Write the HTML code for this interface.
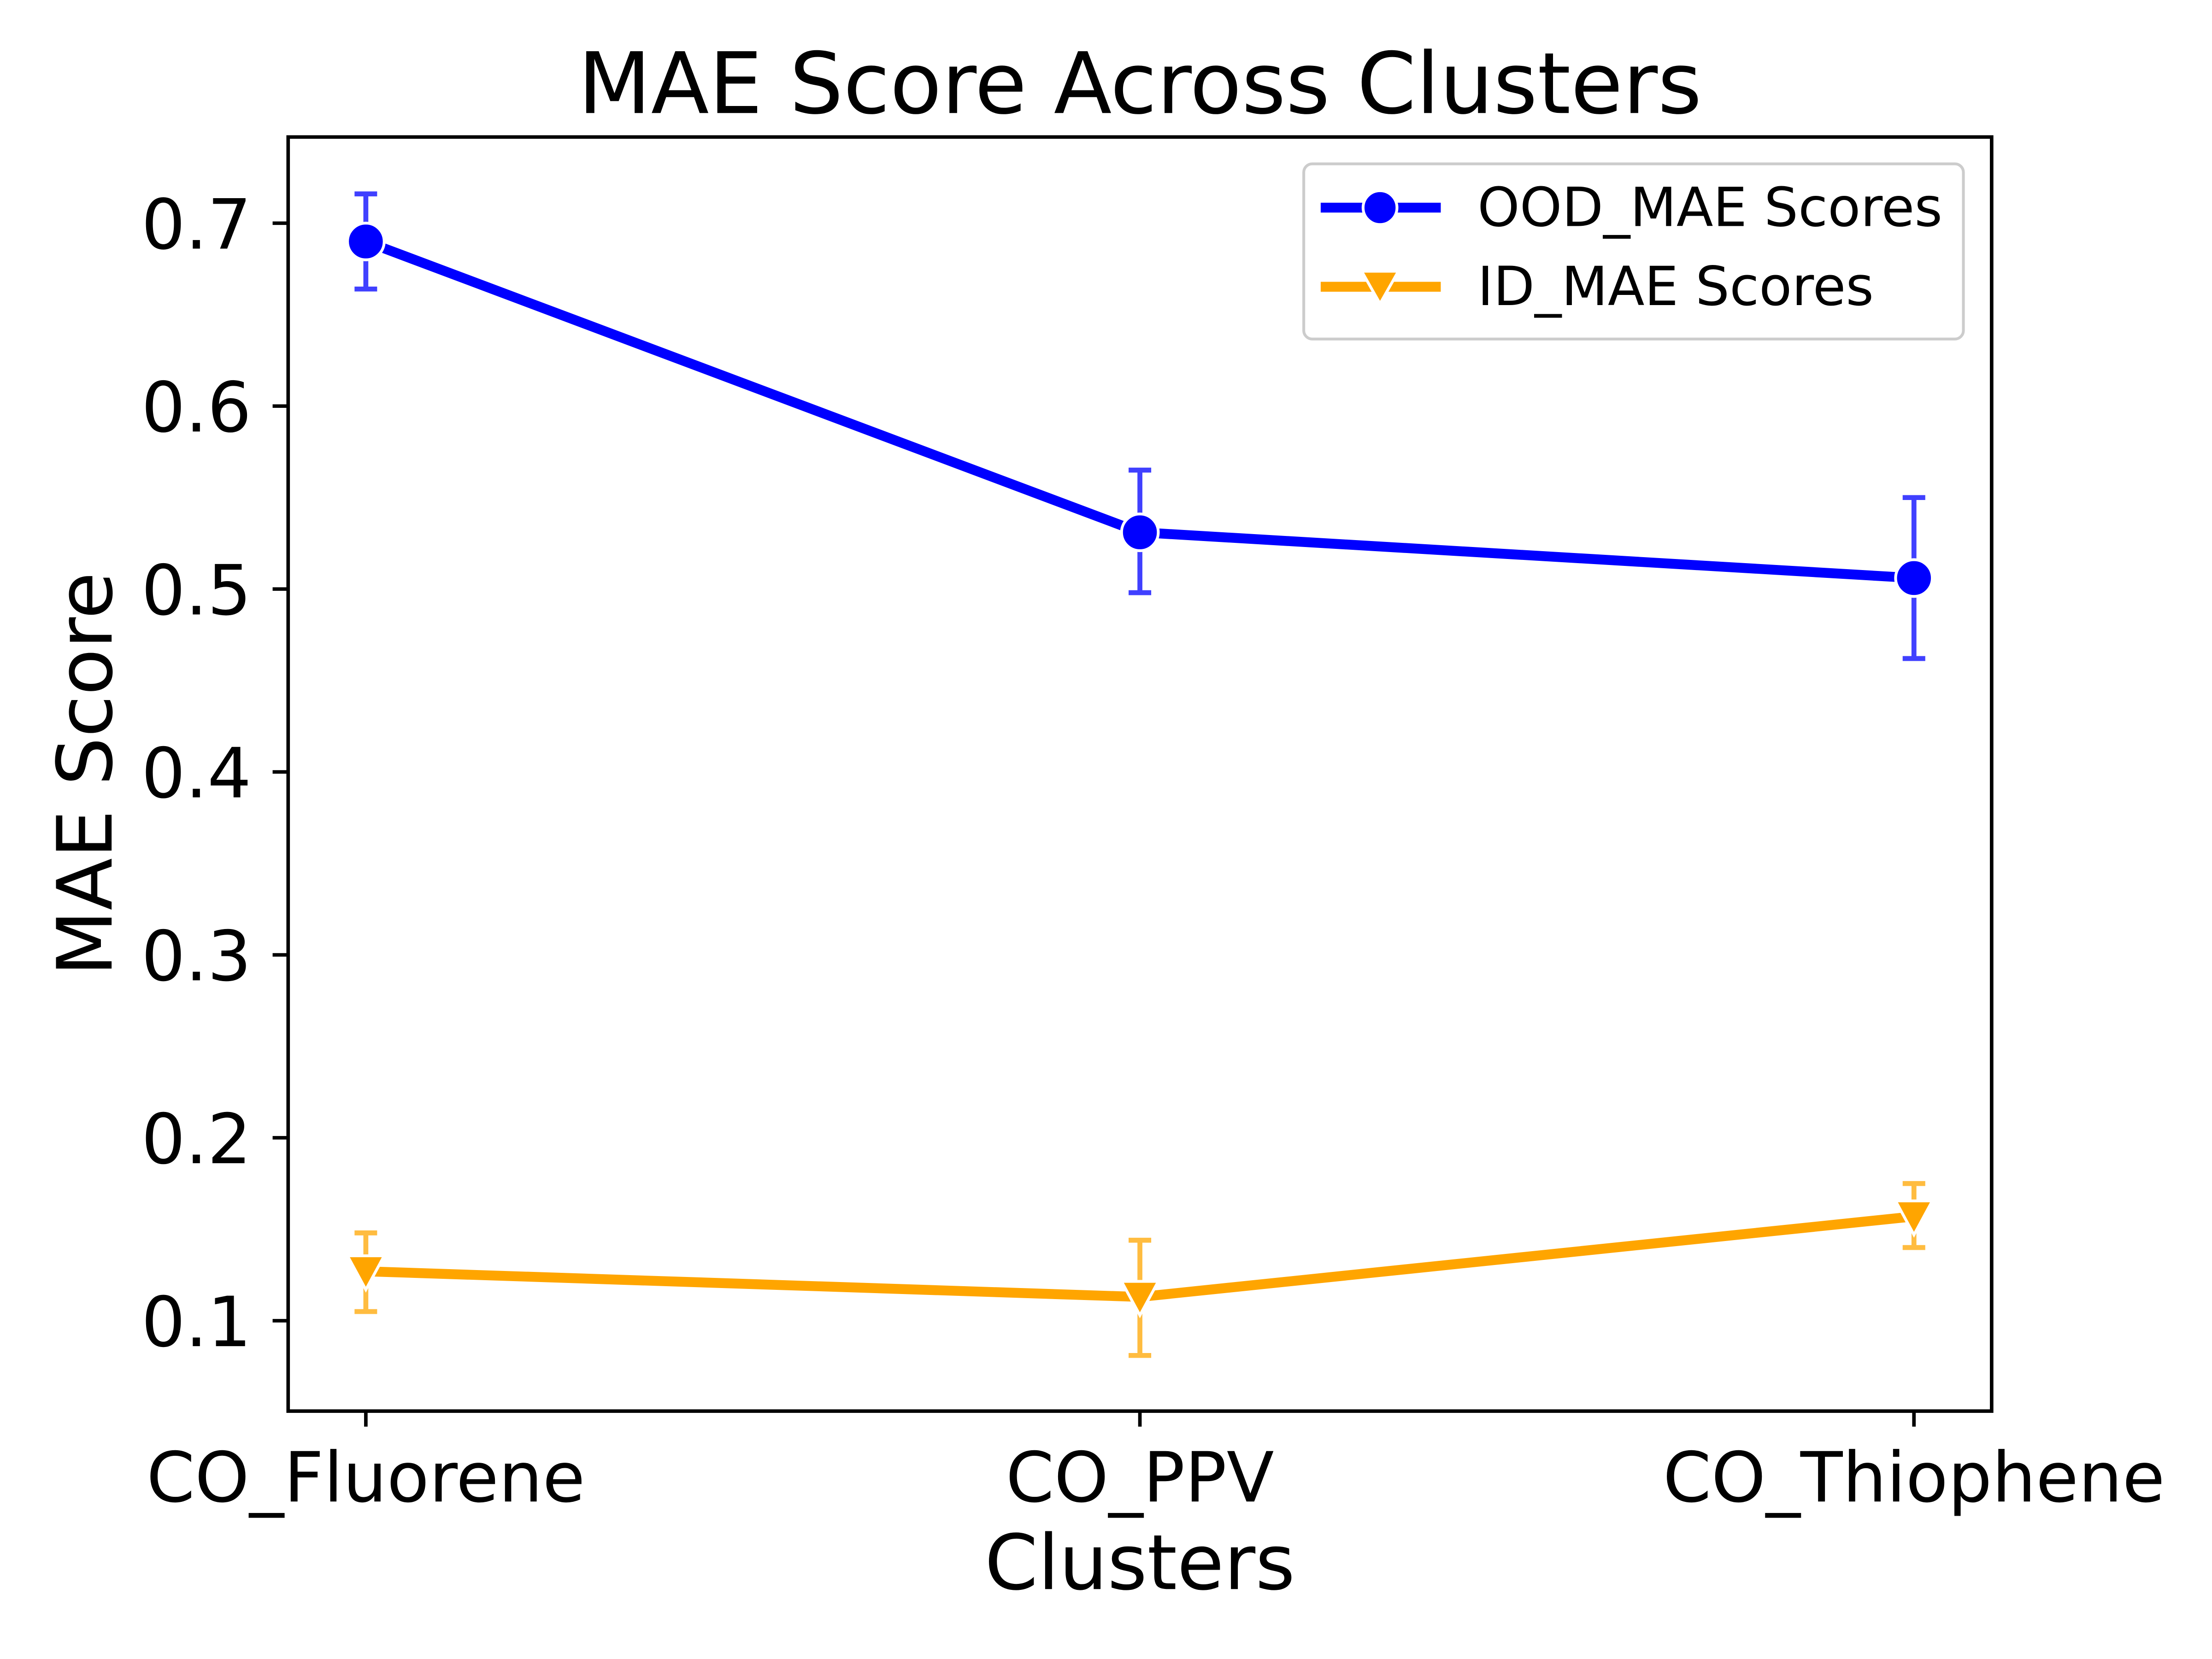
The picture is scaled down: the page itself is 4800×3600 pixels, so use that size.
<!DOCTYPE html>
<html><head><meta charset="utf-8"><style>
html,body{margin:0;padding:0;background:#fff}
svg{display:block}
text{font-family:"DejaVu Sans","Liberation Sans",sans-serif;fill:#000}
</style></head><body>
<svg id="chart" width="4800" height="3600" viewBox="0 0 1566 1174.5" preserveAspectRatio="none" xmlns="http://www.w3.org/2000/svg">
<rect x="0" y="0" width="1566" height="1175" fill="#fff"/>
<text x="807" y="80" font-size="60" text-anchor="middle">MAE Score Across Clusters</text>
<g id="plot"></g>
<rect x="204" y="97" width="1206" height="902" fill="none" stroke="#000" stroke-width="2.5"/>
<text x="807" y="1125" font-size="54" text-anchor="middle">Clusters</text>
<text transform="translate(79,548) rotate(-90)" font-size="54" text-anchor="middle">MAE Score</text>
<g>
<rect x="923" y="116" width="467" height="124" rx="6" fill="#fff" stroke="#ccc" stroke-width="2"/>
<line x1="935" y1="147" x2="1020" y2="147" stroke="#0000ff" stroke-width="7"/>
<circle cx="977" cy="147" r="12" fill="#0000ff" stroke="#fff" stroke-width="2"/>
<text x="1046" y="160" font-size="38">OOD_MAE Scores</text>
<line x1="935" y1="203" x2="1020" y2="203" stroke="#ffa500" stroke-width="7"/>
<path d="M964,192 L990,192 L977,215 Z" fill="#ffa500" stroke="#fff" stroke-width="2"/>
<text x="1046" y="216" font-size="38">ID_MAE Scores</text>
</g>
</svg>
<script>
const categories = ["CO_Fluorene","CO_PPV","CO_Thiophene"];
const oodValues = [0.690, 0.531, 0.506];
const oodLow = [0.664, 0.498, 0.462];
const oodHigh = [0.716, 0.565, 0.550];
const idValues = [0.127, 0.113, 0.157];
const idLow = [0.105, 0.081, 0.140];
const idHigh = [0.148, 0.144, 0.175];
const yTicks = [0.1,0.2,0.3,0.4,0.5,0.6,0.7];

const NS="http://www.w3.org/2000/svg";
const plot=document.getElementById('plot');
function xs(i){return 259+i*548;}
function ys(v){return 935-(v-0.1)*1295;}
function mk(tag,attrs){const e=document.createElementNS(NS,tag);for(const k in attrs)e.setAttribute(k,attrs[k]);plot.appendChild(e);return e;}

yTicks.forEach(t=>{
  const y=ys(t);
  const tk=mk('line',{x1:193,x2:204,y1:y,y2:y,stroke:'#000','stroke-width':2.5});
  
  
  const lb=mk('text',{x:178,y:y+18,'font-size':49,'text-anchor':'end'});
  lb.textContent=t.toFixed(1);
  
  
});
categories.forEach((c,i)=>{
  const x=xs(i);
  const tk=mk('line',{x1:x,x2:x,y1:999,y2:1010,stroke:'#000','stroke-width':2.5});
  
  
  const lb=mk('text',{x:x,y:1063,'font-size':49,'text-anchor':'middle'});
  lb.textContent=c;
  
  
});

function series(vals,lo,hi,color,marker,name){
  vals.forEach((v,i)=>{
    const x=xs(i);
    const e=mk('path',{d:`M${x},${ys(hi[i])}V${ys(lo[i])}M${x-8},${ys(hi[i])}H${x+8}M${x-8},${ys(lo[i])}H${x+8}`,stroke:color,'stroke-width':3.5,fill:'none',opacity:0.75});
    
    
  });
  const pl=mk('polyline',{points:vals.map((v,i)=>xs(i)+','+ys(v)).join(' '),fill:'none',stroke:color,'stroke-width':7,'stroke-linejoin':'round'});
  
  
  vals.forEach((v,i)=>{
    const x=xs(i),y=ys(v);
    let m;
    if(marker==='circle') m=mk('circle',{cx:x,cy:y,r:13,fill:color,stroke:'#fff','stroke-width':2});
    else m=mk('path',{d:`M${x-13},${y-11}L${x+13},${y-11}L${x},${y+13}Z`,fill:color,stroke:'#fff','stroke-width':2});
    
    
  });
}
series(oodValues,oodLow,oodHigh,'#0000ff','circle','ood');
series(idValues,idLow,idHigh,'#ffa500','tri','id');
</script>
</body></html>
